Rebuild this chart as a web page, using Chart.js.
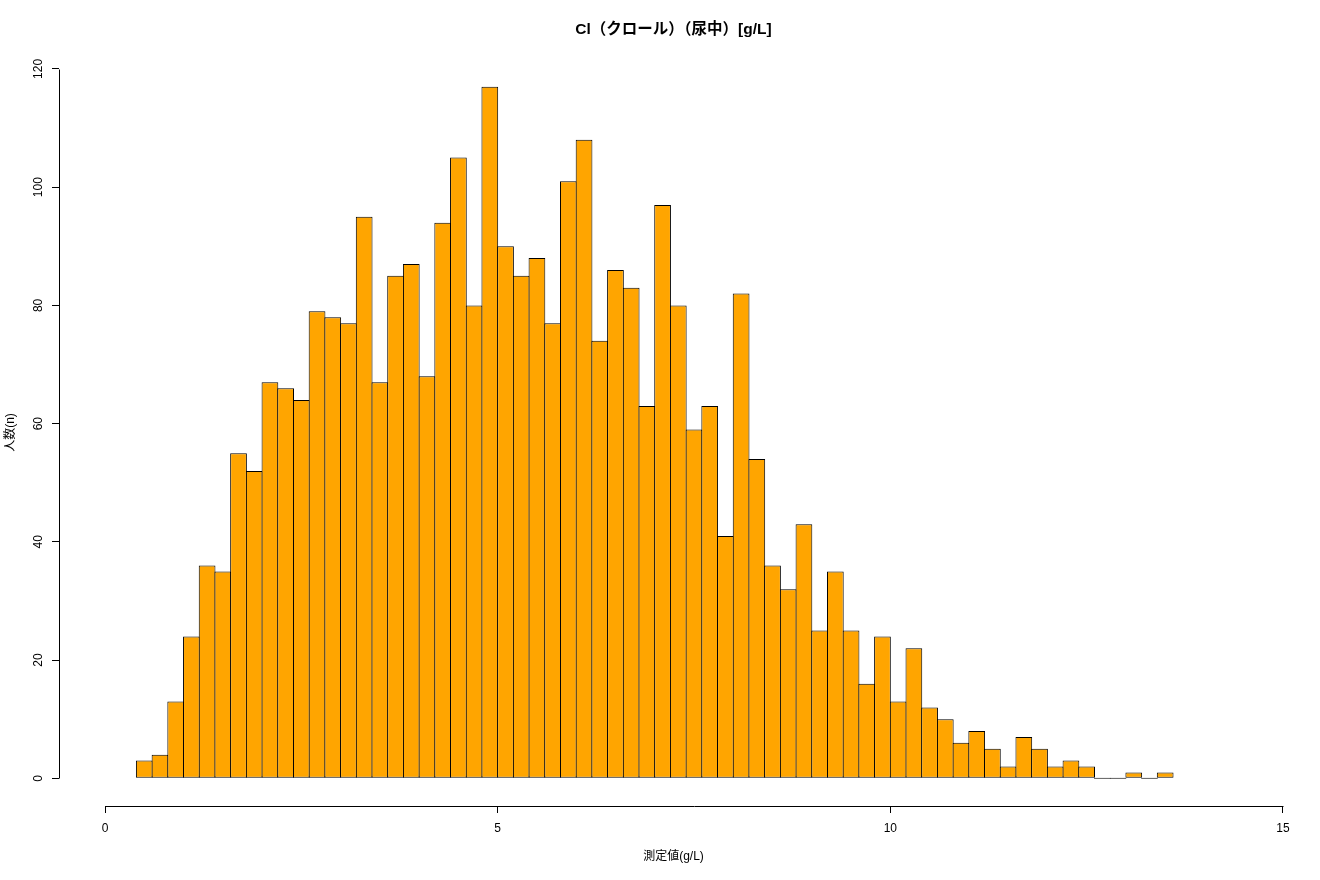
<!DOCTYPE html>
<html>
<head>
<meta charset="utf-8">
<script src="https://cdn.jsdelivr.net/npm/chart.js@4"></script>
<style>
  body { margin: 0; background: #fff; }
  #wrap { width: 1320px; height: 880px; }
</style>
</head>
<body>
<div id="wrap"><canvas id="hist" width="1320" height="880"></canvas></div>
<script>
// =========================
// DATA
// =========================
const chartTitle = "Cl（クロール）（尿中）[g/L]";
const xTitle = "測定値(g/L)";
const yTitle = "人数(n)";

// bin centres (bins are 0.2 wide, from 0.4 to 13.6)
const binCenters = [
  0.5, 0.7, 0.9, 1.1, 1.3, 1.5, 1.7, 1.9, 2.1, 2.3,
  2.5, 2.7, 2.9, 3.1, 3.3, 3.5, 3.7, 3.9, 4.1, 4.3,
  4.5, 4.7, 4.9, 5.1, 5.3, 5.5, 5.7, 5.9, 6.1, 6.3,
  6.5, 6.7, 6.9, 7.1, 7.3, 7.5, 7.7, 7.9, 8.1, 8.3,
  8.5, 8.7, 8.9, 9.1, 9.3, 9.5, 9.7, 9.9, 10.1, 10.3,
  10.5, 10.7, 10.9, 11.1, 11.3, 11.5, 11.7, 11.9, 12.1, 12.3,
  12.5, 12.7, 12.9, 13.1, 13.3, 13.5
];

const counts = [
  3, 4, 13, 24, 36, 35, 55, 52, 67, 66,
  64, 79, 78, 77, 95, 67, 85, 87, 68, 94,
  105, 80, 117, 90, 85, 88, 77, 101, 108, 74,
  86, 83, 63, 97, 80, 59, 63, 41, 82, 54,
  36, 32, 43, 25, 35, 25, 16, 24, 13, 22,
  12, 10, 6, 8, 5, 2, 7, 5, 2, 3,
  2, 0, 0, 1, 0, 1
];

const xTicks = [0, 5, 10, 15];
const yTicks = [0, 20, 40, 60, 80, 100, 120];

// =========================
// FONT
// =========================
const FONT = '"Liberation Sans", "Noto Sans CJK JP", Arial, sans-serif';
Chart.defaults.font.family = FONT;
Chart.defaults.color = "#000";

// =========================
// R-style axis lines (first tick to last tick only) + title over plot region
// =========================
const rAxes = {
  id: "rAxes",
  afterDraw(chart) {
    const { ctx, chartArea, scales } = chart;
    const x = scales.x, y = scales.y;
    ctx.save();
    ctx.strokeStyle = "#000";
    ctx.lineWidth = 1;
    ctx.beginPath();
    const yb = Math.floor(chartArea.bottom) + 0.5;
    ctx.moveTo(Math.round(x.getPixelForValue(xTicks[0])) + 0.5, yb);
    ctx.lineTo(Math.round(x.getPixelForValue(xTicks[xTicks.length - 1])) + 0.5, yb);
    const xl = Math.floor(chartArea.left) + 0.5;
    ctx.moveTo(xl, Math.round(y.getPixelForValue(yTicks[0])) + 0.5);
    ctx.lineTo(xl, Math.round(y.getPixelForValue(yTicks[yTicks.length - 1])) + 0.5);
    ctx.stroke();

    // main title, centred on the plot region like R
    ctx.fillStyle = "#000";
    ctx.font = "bold 15.5px " + FONT;
    ctx.textAlign = "center";
    ctx.textBaseline = "middle";
    ctx.fillText(chartTitle, (chartArea.left + chartArea.right) / 2, 30);
    ctx.restore();
  }
};

// =========================
// CHART
// =========================
const ctx = document.getElementById("hist").getContext("2d");

const histChart = new Chart(ctx, {
  type: "bar",
  data: {
    datasets: [{
      data: binCenters.map((c, i) => ({ x: c, y: counts[i] })),
      backgroundColor: "#FFA500",
      borderColor: "#000",
      borderWidth: 1,
      borderSkipped: false,
      barPercentage: 1.065,
      categoryPercentage: 1,
      minBarLength: 1
    }]
  },
  options: {
    responsive: false,
    animation: false,
    layout: { padding: { left: 0, right: 32, top: 59, bottom: 0 } },
    plugins: {
      legend: { display: false },
      tooltip: { enabled: false },
      title: { display: false }
    },
    scales: {
      x: {
        type: "linear",
        offset: false,
        min: -0.586,
        max: 15.064,
        afterBuildTicks: (s) => { s.ticks = xTicks.map(v => ({ value: v })); },
        afterFit: (s) => { s.height = 74; },
        border: { display: false },
        grid: { display: true, offset: false, drawOnChartArea: false, drawTicks: true, tickLength: 7, color: "#000" },
        ticks: { font: { size: 12 }, padding: 8, maxRotation: 0, autoSkip: false },
        title: { display: true, text: xTitle, font: { size: 12 }, padding: { top: 0, bottom: 16 } }
      },
      y: {
        min: -4.68,
        max: 121.68,
        afterBuildTicks: (s) => { s.ticks = yTicks.map(v => ({ value: v })); },
        afterFit: (s) => { s.width = 59; },
        border: { display: false },
        grid: { display: true, drawOnChartArea: false, drawTicks: true, tickLength: 7, color: "#000" },
        ticks: { font: { size: 12 }, padding: 3, minRotation: 90, maxRotation: 90, crossAlign: "center", autoSkip: false },
        title: { display: true, text: yTitle, font: { size: 12 }, padding: { top: 3, bottom: 0 } }
      }
    }
  },
  plugins: [rAxes]
});
</script>
</body>
</html>
